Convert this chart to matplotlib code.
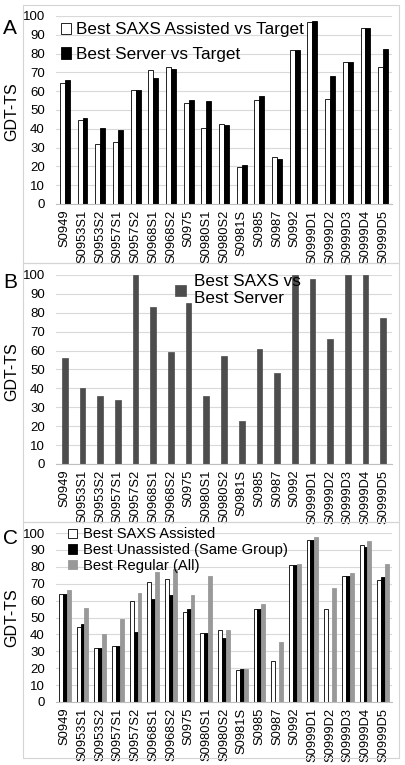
import matplotlib
matplotlib.use("Agg")
import matplotlib.pyplot as plt
import numpy as np
from matplotlib.patches import Rectangle

plt.rcParams['font.family'] = ['Liberation Sans', 'DejaVu Sans']

categories = ["S0949", "S0953S1", "S0953S2", "S0957S1", "S0957S2", "S0968S1",
              "S0968S2", "S0975", "S0980S1", "S0980S2", "S0981S", "S0985",
              "S0987", "S0992", "S0999D1", "S0999D2", "S0999D3", "S0999D4",
              "S0999D5"]

# Panel A
a_saxs = [64.6, 44.8, 31.9, 32.9, 60.4, 71.3, 72.7, 53.6, 40.4, 42.8, 19.5,
          55.2, 24.8, 81.9, 96.6, 55.6, 75.4, 93.8, 72.9]
a_server = [65.7, 46.0, 40.4, 39.1, 60.4, 66.9, 71.7, 55.4, 55.0, 41.9, 20.5,
            57.3, 24.0, 81.9, 97.5, 68.3, 75.4, 93.8, 82.7]

# Panel B
b_vs = [56, 40, 36, 34, 100, 83, 59, 85, 36, 57, 23, 61, 48, 100, 98, 66,
        100, 100, 77]

# Panel C
c_saxs = [64.2, 44.6, 32.1, 32.9, 60.0, 70.9, 72.7, 53.5, 40.6, 42.7, 19.0,
          55.0, 24.4, 81.2, 96.0, 55.0, 74.8, 93.0, 72.4]
c_unassisted = [64.0, 46.1, 31.9, 33.1, 41.6, 61.2, 63.4, 55.2, 40.6, 37.7,
                19.8, 55.0, 0, 81.2, 96.0, 0, 74.4, 91.5, 74.2]
c_regular = [66.0, 55.8, 40.0, 48.9, 64.4, 77.2, 78.8, 63.4, 74.7, 42.5, 19.8,
             57.7, 35.3, 81.7, 97.4, 67.7, 76.6, 95.4, 81.9]

yticks = list(range(0, 101, 10))

W, H = 405, 765
fig = plt.figure(figsize=(W / 100, H / 100), dpi=100)


def px_axes(left, right, top, bottom):
    return fig.add_axes([left / W, 1 - bottom / H, (right - left) / W, (bottom - top) / H])


def style(ax):
    ax.set_ylim(0, 100)
    ax.set_xlim(-0.5, len(categories) - 0.5)
    ax.set_yticks(yticks)
    ax.set_yticklabels([str(t) for t in yticks], fontsize=9.5)
    ax.set_xticks(np.arange(len(categories)))
    ax.set_xticklabels(categories, rotation=90, fontsize=9.3)
    ax.tick_params(axis='y', length=0, pad=8)
    ax.tick_params(axis='x', length=0, pad=4)
    ax.grid(axis='y', color='#d9d9d9', linewidth=0.8)
    ax.set_axisbelow(True)
    for s in ['left', 'right', 'top']:
        ax.spines[s].set_visible(False)
    ax.spines['bottom'].set_color('#bfbfbf')
    ax.spines['bottom'].set_linewidth(0.8)
    ax.set_facecolor('none')


x = np.arange(len(categories))

# Frames
for (top, bottom) in [(5, 263), (263, 522), (522, 758)]:
    fig.patches.append(Rectangle((23 / W, 1 - bottom / H), (399 - 23) / W, (bottom - top) / H,
                                 transform=fig.transFigure, fill=False,
                                 edgecolor='#d4d4d4', linewidth=0.8))

# Panel A
axA = px_axes(56, 392, 16, 204)
style(axA)
bw = 0.28
axA.bar(x - bw / 2, a_saxs, bw, color='white', edgecolor='black', linewidth=0.6,
        label='Best SAXS Assisted vs Target')
axA.bar(x + bw / 2, a_server, bw, color='black', edgecolor='black', linewidth=0.6,
        label='Best Server vs Target')
axA.legend(loc='upper left', bbox_to_anchor=(-0.015, 1.02), frameon=False, fontsize=12.3,
           handlelength=0.6, handleheight=0.7, handletextpad=0.25, labelspacing=0.55,
           borderaxespad=0.2)

# Panel B
axB = px_axes(56, 392, 275, 464)
style(axB)
axB.bar(x, b_vs, 0.32, color='#4d4d4d', edgecolor='#4d4d4d', linewidth=0.5,
        label='Best SAXS vs\nBest Server')
axB.legend(loc='upper left', bbox_to_anchor=(0.325, 1.06), frameon=False, fontsize=12.3,
           handlelength=0.6, handleheight=0.6, handletextpad=0.5, labelspacing=0.3,
           borderaxespad=0.2)

# Panel C
axC = px_axes(56, 392, 533, 702)
style(axC)
cw = 0.22
axC.bar(x - cw, c_saxs, cw, color='white', edgecolor='black', linewidth=0.6,
        label='Best SAXS Assisted')
axC.bar(x, c_unassisted, cw, color='black', edgecolor='black', linewidth=0.6,
        label='Best Unassisted (Same Group)')
axC.bar(x + cw, c_regular, cw, color='#999999', edgecolor='#999999', linewidth=0.6,
        label='Best Regular (All)')
axC.legend(loc='upper left', bbox_to_anchor=(0.01, 1.085), frameon=False, fontsize=10.6,
           handlelength=0.6, handleheight=0.6, handletextpad=0.4, labelspacing=0.12,
           borderaxespad=0.2)

# Panel letters and y labels
for letter, ly, gy in [('A', 29, 112), ('B', 283, 372), ('C', 538, 618)]:
    fig.text(10 / W, 1 - ly / H, letter, fontsize=15, ha='center', va='center')
    fig.text(12 / W, 1 - gy / H, 'GDT-TS', fontsize=11.5, rotation=90, ha='center', va='center')

fig.savefig('out.png', dpi=100)
